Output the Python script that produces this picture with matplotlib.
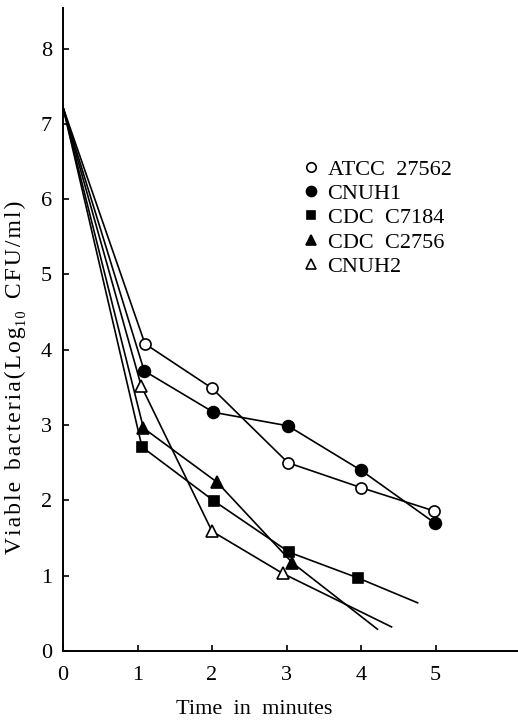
import matplotlib
matplotlib.use("Agg")
import matplotlib.pyplot as plt
from matplotlib.lines import Line2D

plt.rcParams["font.family"] = ["Liberation Serif", "DejaVu Serif"]

start_time = 0
start_value = 7.22

# measured points (time in minutes, log10 CFU/ml)
atcc_t = [1.10, 2.00, 3.02, 4.00, 4.98]
atcc_v = [4.08, 3.49, 2.50, 2.17, 1.86]

cnuh1_t = [1.09, 2.02, 3.02, 4.00, 4.99]
cnuh1_v = [3.72, 3.17, 2.99, 2.40, 1.70]

c7184_t = [1.06, 2.03, 3.04, 3.96]
c7184_v = [2.71, 1.99, 1.31, 0.97]
c7184_end = (4.76, 0.64)

c2756_t = [1.08, 2.07, 3.08]
c2756_v = [2.96, 2.24, 1.17]
c2756_end = (4.22, 0.29)

cnuh2_t = [1.05, 2.00, 2.95]
cnuh2_v = [3.52, 1.59, 1.03]
cnuh2_end = (4.41, 0.32)

labels = ["ATCC  27562", "CNUH1", "CDC  C7184", "CDC  C2756", "CNUH2"]
markers = ["o", "o", "s", "^", "^"]
fills = ["white", "black", "black", "black", "white"]
sizes = [8, 8.5, 7, 9, 9]

fig = plt.figure(figsize=(5.18, 7.22), dpi=100)
ax = fig.add_axes([63 / 518, 71 / 722, 455 / 518, 643 / 722])

series = [
    (atcc_t, atcc_v, None),
    (cnuh1_t, cnuh1_v, None),
    (c7184_t, c7184_v, c7184_end),
    (c2756_t, c2756_v, c2756_end),
    (cnuh2_t, cnuh2_v, cnuh2_end),
]

for (ts, vs, end), m, fc, ms in zip(series, markers, fills, sizes):
    xs = [start_time] + ts
    ys = [start_value] + vs
    if end is not None:
        xs = xs + [end[0]]
        ys = ys + [end[1]]
    ax.plot(xs, ys, color="black", lw=1.2, zorder=2)
    ax.plot(ts, vs, ls="none", marker=m, ms=ms, mfc=fc, mec="black",
            mew=1.2, zorder=3)

ax.set_xlim(0, 455 / 74.5)
ax.set_ylim(0, 643 / 75.3)
ax.set_xticks(range(0, 6))
ax.set_yticks(range(0, 9))
ax.tick_params(axis="both", direction="in", length=4, width=1.2, labelsize=16)
ax.tick_params(axis="y", pad=8)
ax.tick_params(axis="x", pad=11)
ax.spines["top"].set_visible(False)
ax.spines["right"].set_visible(False)
ax.spines["left"].set_linewidth(1.4)
ax.spines["bottom"].set_linewidth(1.4)

ax.set_xlabel("Time  in  minutes", fontsize=16)
ax.xaxis.set_label_coords(191 / 455, -49 / 643)

# slightly letter-spaced y label, as in the printed figure
hair = "\u200a"
ylab_words = ["Viable", "bacteria(Log", "CFU/ml)"]
spaced = [hair.join(w) for w in ylab_words]
ylab = spaced[0] + "  " + spaced[1] + "\u2081\u2080  " + spaced[2]
ax.set_ylabel(ylab, fontsize=17)
ax.yaxis.set_label_coords(-37 / 455, 274 / 643)

handles = [Line2D([], [], ls="none", marker=m, ms=s * 0.85,
                  mfc=fc, mec="black", mew=1.2)
           for m, fc, s in zip(markers, fills, sizes)]
fig.legend(handles, labels, loc="upper left", bbox_to_anchor=(302 / 518, 1 - 159 / 722),
           frameon=False, fontsize=16, handlelength=0.8, handletextpad=0.35,
           labelspacing=0.17, borderaxespad=0, borderpad=0)

fig.savefig("out.png", dpi=100)
